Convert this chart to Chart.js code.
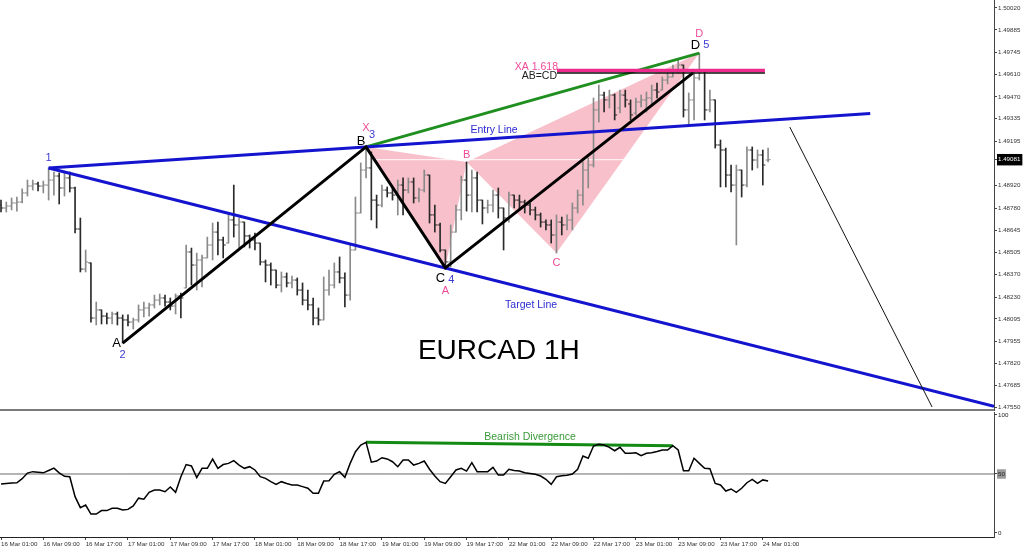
<!DOCTYPE html>
<html><head><meta charset="utf-8">
<script src="https://cdn.jsdelivr.net/npm/chart.js@4.4.1/dist/chart.umd.min.js"></script>
<style>
html,body{margin:0;padding:0;background:#fff;width:1024px;height:550px;overflow:hidden;}
#main{position:absolute;left:0;top:0;}
#rsiC{position:absolute;left:0;top:412px;}
</style></head><body>
<canvas id="main" width="1024" height="412"></canvas>
<canvas id="rsiC" width="1024" height="138"></canvas>
<script>
// ---------- data ----------
const xTickLabels = ['16 Mar 01:00','16 Mar 09:00','16 Mar 17:00','17 Mar 01:00','17 Mar 09:00','17 Mar 17:00','18 Mar 01:00','18 Mar 09:00','18 Mar 17:00','19 Mar 01:00','19 Mar 09:00','19 Mar 17:00','22 Mar 01:00','22 Mar 09:00','22 Mar 17:00','23 Mar 01:00','23 Mar 09:00','23 Mar 17:00','24 Mar 01:00'];
const xTickIndex = [0,8,16,24,32,40,48,56,64,72,80,88,96,104,112,120,128,136,144];
const priceTicks = [1.50020,1.49885,1.49745,1.49610,1.49470,1.49335,1.49195,1.48920,1.48780,1.48645,1.48505,1.48370,1.48230,1.48095,1.47955,1.47820,1.47685,1.47550];
const rsiTicks = [100,50,0];

const openP = [
1.48800,1.48782,1.48794,1.48813,1.48819,1.48875,1.48918,1.48931,1.48918,1.48924,
1.48955,1.48980,1.48906,1.48968,1.48906,1.48652,1.48404,1.48442,1.48101,1.48151,
1.48113,1.48101,1.48126,1.48101,1.48089,1.48076,1.48089,1.48151,1.48163,1.48182,
1.48212,1.48225,1.48200,1.48175,1.48237,1.48287,1.48510,1.48429,1.48460,1.48473,
1.48553,1.48633,1.48584,1.48565,1.48708,1.48677,1.48695,1.48609,1.48584,1.48565,
1.48448,1.48429,1.48398,1.48305,1.48355,1.48318,1.48336,1.48274,1.48212,1.48182,
1.48101,1.48089,1.48274,1.48305,1.48386,1.48349,1.48243,1.48522,1.48751,1.49017,
1.49030,1.48831,1.48800,1.48893,1.48875,1.48862,1.48924,1.48893,1.48943,1.48844,
1.48893,1.48986,1.48739,1.48677,1.48522,1.48448,1.48633,1.48770,1.48955,1.48862,
1.48968,1.48831,1.48782,1.48800,1.48862,1.48782,1.48720,1.48862,1.48831,1.48819,
1.48800,1.48770,1.48739,1.48695,1.48677,1.48615,1.48695,1.48677,1.48708,1.48782,
1.48862,1.49017,1.49048,1.49389,1.49481,1.49451,1.49481,1.49401,1.49481,1.49426,
1.49370,1.49438,1.49451,1.49463,1.49512,1.49512,1.49574,1.49593,1.49636,1.49667,
1.49389,1.49451,1.49587,1.49636,1.49389,1.49451,1.49172,1.49141,1.48986,1.48924,
1.49017,1.48924,1.49141,1.49079,1.49110,1.49079];
const highP = [
1.48831,1.48819,1.48844,1.48850,1.48900,1.48955,1.48955,1.48943,1.48949,1.49030,
1.49005,1.48999,1.49005,1.49005,1.48912,1.48720,1.48522,1.48442,1.48200,1.48151,
1.48132,1.48138,1.48138,1.48120,1.48120,1.48101,1.48182,1.48200,1.48194,1.48243,
1.48250,1.48243,1.48225,1.48250,1.48256,1.48553,1.48534,1.48503,1.48491,1.48602,
1.48689,1.48695,1.48602,1.48751,1.48924,1.48720,1.48695,1.48615,1.48627,1.48565,
1.48460,1.48442,1.48398,1.48386,1.48380,1.48361,1.48349,1.48318,1.48274,1.48225,
1.48163,1.48355,1.48398,1.48442,1.48479,1.48380,1.48553,1.48850,1.49061,1.49160,
1.49129,1.48862,1.48924,1.48912,1.48906,1.48955,1.48968,1.48968,1.48968,1.48906,
1.49017,1.48986,1.48800,1.48689,1.48522,1.48677,1.48800,1.48980,1.49067,1.49017,
1.49005,1.48831,1.48831,1.48893,1.48906,1.48782,1.48881,1.48862,1.48862,1.48831,
1.48813,1.48788,1.48751,1.48708,1.48708,1.48739,1.48726,1.48739,1.48813,1.48893,
1.49067,1.49092,1.49463,1.49543,1.49500,1.49512,1.49488,1.49512,1.49512,1.49451,
1.49463,1.49481,1.49500,1.49543,1.49556,1.49593,1.49618,1.49667,1.49698,1.49667,
1.49494,1.49624,1.49741,1.49636,1.49512,1.49451,1.49203,1.49153,1.49048,1.49048,
1.49017,1.49160,1.49160,1.49141,1.49141,1.49153];
const lowP = [
1.48757,1.48757,1.48770,1.48763,1.48813,1.48856,1.48893,1.48887,1.48875,1.48831,
1.48862,1.48807,1.48856,1.48881,1.48627,1.48386,1.48386,1.48076,1.48058,1.48064,
1.48064,1.48064,1.48058,1.47946,1.48052,1.48033,1.48076,1.48107,1.48113,1.48163,
1.48182,1.48175,1.48151,1.48126,1.48101,1.48287,1.48305,1.48274,1.48293,1.48473,
1.48460,1.48491,1.48473,1.48565,1.48602,1.48534,1.48541,1.48534,1.48522,1.48429,
1.48324,1.48305,1.48287,1.48262,1.48293,1.48287,1.48243,1.48182,1.48151,1.48058,
1.48058,1.48089,1.48243,1.48287,1.48318,1.48169,1.48212,1.48522,1.48751,1.48968,
1.48708,1.48658,1.48788,1.48850,1.48831,1.48739,1.48739,1.48875,1.48813,1.48819,
1.48881,1.48689,1.48633,1.48510,1.48411,1.48417,1.48633,1.48708,1.48763,1.48757,
1.48757,1.48683,1.48751,1.48757,1.48720,1.48522,1.48695,1.48782,1.48770,1.48751,
1.48739,1.48708,1.48664,1.48646,1.48565,1.48503,1.48615,1.48646,1.48646,1.48751,
1.48800,1.48906,1.49036,1.49314,1.49376,1.49401,1.49327,1.49370,1.49407,1.49327,
1.49358,1.49407,1.49376,1.49420,1.49463,1.49512,1.49550,1.49593,1.49618,1.49345,
1.49296,1.49327,1.49574,1.49327,1.49376,1.49153,1.48912,1.48912,1.48881,1.48553,
1.48850,1.48912,1.49017,1.49030,1.48924,1.49067];
const closeP = [
1.48782,1.48794,1.48813,1.48819,1.48875,1.48918,1.48931,1.48918,1.48924,1.48955,
1.48980,1.48906,1.48968,1.48906,1.48652,1.48404,1.48448,1.48101,1.48151,1.48113,
1.48101,1.48126,1.48101,1.48089,1.48076,1.48089,1.48151,1.48163,1.48182,1.48212,
1.48225,1.48200,1.48175,1.48237,1.48225,1.48510,1.48429,1.48460,1.48473,1.48553,
1.48633,1.48584,1.48553,1.48708,1.48677,1.48695,1.48609,1.48584,1.48565,1.48448,
1.48429,1.48398,1.48305,1.48355,1.48318,1.48336,1.48274,1.48212,1.48182,1.48101,
1.48089,1.48274,1.48305,1.48386,1.48349,1.48243,1.48522,1.48751,1.49017,1.49030,
1.48831,1.48800,1.48893,1.48875,1.48862,1.48924,1.48893,1.48943,1.48844,1.48893,
1.48986,1.48739,1.48677,1.48522,1.48448,1.48633,1.48770,1.48955,1.48862,1.48968,
1.48831,1.48782,1.48800,1.48862,1.48782,1.48720,1.48862,1.48831,1.48819,1.48800,
1.48770,1.48739,1.48695,1.48677,1.48615,1.48695,1.48677,1.48708,1.48782,1.48862,
1.49017,1.49048,1.49389,1.49481,1.49451,1.49481,1.49358,1.49481,1.49451,1.49358,
1.49438,1.49451,1.49463,1.49512,1.49500,1.49574,1.49593,1.49636,1.49667,1.49389,
1.49451,1.49587,1.49636,1.49389,1.49451,1.49172,1.49141,1.48986,1.48924,1.49017,
1.48924,1.49141,1.49079,1.49110,1.49048,1.49081];
const rsiValues = [
41.5,42,42.3,42.6,46,50.8,52,51.5,51,53,
55,51,48,47.7,30.8,21.5,23.7,16,16,19,
19,21,21,19.5,20,23,29.5,28.6,34.5,36.4,
36.4,35,39,34.5,47.7,58,56.8,47,54.8,54.8,
62.7,54.8,58,59,61.3,57.6,54.8,56.2,53.4,47.7,
46.3,43.5,41.2,43.5,42,40.7,40.7,39.3,37.9,33.6,
33.6,44,44.3,49.7,52,47.2,59,68.9,74.6,76.9,
60,61,63.8,62.8,60.4,56.2,61.9,61.9,57.6,59,
61,54,48.3,43.5,42,47.7,53.4,54.8,52.5,59.6,
52,52,52,55.6,49.1,49.1,54,53,52.5,51,
50.5,49.7,48.3,45.5,41.2,47.7,48.6,48.9,50,54,
65.3,63.3,73.7,75.1,74.6,72.6,69.7,72.6,67.5,67.5,
68,65.5,67.5,68,69,70.3,70.3,74,70.3,52.8,
52.8,63.3,59,54.8,54.5,42,40.7,35.6,37.3,34.5,
37.9,42.6,45.5,42,45,44];

// pattern pivots (bar indexes) and levels
const pivotIndex = {one:9, A:23, B:69, C:84, hB:88, hC:105, D:132};
const levelXA = 1.49633;     // XA 1.618
const levelABCD = 1.49618;   // AB=CD
const levelSpan = [105.1, 144.4];
const cdEndIndex = 130.8;
const entryEndIndex = 164.3;
const projection = [{x:149.1, y:1.49283}, {x:176.0, y:1.47550}];
const divergenceIdx = [69, 127];

// axis ranges
const X_MIN = -0.19, X_MAX = 187.7;
const P_MIN = 1.475316, P_MAX = 1.500695;
const R_MIN = -3.39, R_MAX = 102.54;

// ---------- helpers ----------
const lastClose = closeP[closeP.length-1];
const pt = (i, arr) => ({x:i, y:arr[i]});
const lineAt = (p, q, x) => p.y + (q.y - p.y) * (x - p.x) / (q.x - p.x);
const P1 = pt(pivotIndex.one, highP), pA = pt(pivotIndex.A, lowP), pB = pt(pivotIndex.B, highP),
      pC = pt(pivotIndex.C, lowP), hB = pt(pivotIndex.hB, highP), hC = pt(pivotIndex.hC, lowP),
      pD = pt(pivotIndex.D, highP);
const entryLine = [P1, {x:entryEndIndex, y:lineAt(P1, pB, entryEndIndex)}];
const targetLine = [P1, {x:X_MAX, y:lineAt(P1, pC, X_MAX)}];

const BLUE = '#1414cf', NUMBLUE = '#3c3cd2', PINK = '#f8c0ca', MAG = '#ee2a8e', PINKTXT = '#ee4a9a', GREEN = '#1f8f1f';
const FONT = 'Liberation Sans, Arial, sans-serif';
const UPC = '#8a8a8a', DNC = '#2a2a2a';

const mainTexts = [
  {t:'1', at:P1, dx:0, dy:-10, c:NUMBLUE, f:'11px'},
  {t:'A', at:pA, dx:-6, dy:0, c:'#000', f:'13px'},
  {t:'2', at:pA, dx:0, dy:12, c:NUMBLUE, f:'11px'},
  {t:'B', at:pB, dx:-5, dy:-6, c:'#000', f:'13px'},
  {t:'X', at:pB, dx:0, dy:-19, c:PINKTXT, f:'11px'},
  {t:'3', at:pB, dx:6, dy:-12, c:NUMBLUE, f:'11px'},
  {t:'B', at:hB, dx:0, dy:-7, c:PINKTXT, f:'11px'},
  {t:'C', at:pC, dx:-5, dy:10, c:'#000', f:'13px'},
  {t:'4', at:pC, dx:6, dy:12, c:NUMBLUE, f:'11px'},
  {t:'A', at:pC, dx:0, dy:23, c:PINKTXT, f:'11px'},
  {t:'C', at:hC, dx:0, dy:10, c:PINKTXT, f:'11px'},
  {t:'D', at:pD, dx:0, dy:-19, c:PINKTXT, f:'11px'},
  {t:'D', at:pD, dx:-4, dy:-8, c:'#000', f:'13px'},
  {t:'5', at:pD, dx:7, dy:-8, c:NUMBLUE, f:'11px'},
  {t:'Entry Line', at:{x:93.2, y:lineAt(P1, pB, 93.2)}, dx:0, dy:-8, c:'#2a2ad0', f:'10.5px'},
  {t:'Target Line', at:{x:100.2, y:lineAt(P1, pC, 100.2)}, dx:0, dy:16, c:'#2a2ad0', f:'10.5px'},
  {t:'XA 1.618', at:{x:levelSpan[0], y:levelXA}, dx:1, dy:-3, c:PINKTXT, f:'10.5px', a:'right'},
  {t:'AB=CD', at:{x:levelSpan[0], y:levelABCD}, dx:0, dy:3.5, c:'#222', f:'10.5px', a:'right'},
  {t:'EURCAD 1H', at:{x:94.1, y:1.47897}, dx:0, dy:0, c:'#000', f:'28px'}
];

function textPlugin(list){
  return {
    id:'texts',
    afterDatasetsDraw(chart){
      const {ctx, scales} = chart;
      const xs = scales.x, ys = scales.y;
      ctx.save();
      ctx.textBaseline = 'middle';
      for (const t of list){
        ctx.font = t.f + ' ' + FONT;
        ctx.fillStyle = t.c;
        ctx.textAlign = t.a || 'center';
        ctx.fillText(t.t, xs.getPixelForValue(t.at.x) + t.dx, ys.getPixelForValue(t.at.y) + t.dy);
      }
      ctx.restore();
    }
  };
}

const lineDs = (data, color, width, order, extra) => Object.assign({
  type:'line', data, borderColor:color, borderWidth:width, pointRadius:0, pointHoverRadius:0, tension:0, fill:false, order
}, extra || {});

// ---------- main chart ----------
const idx = openP.map((_, i) => i);
const barColors = idx.map(i => closeP[i] < openP[i] ? DNC : UPC);
new Chart(document.getElementById('main'), {
  type:'line',
  data:{ datasets:[
    lineDs([pB, pC, hB], 'rgba(0,0,0,0)', 0, 30, {fill:'shape', backgroundColor:PINK}),
    lineDs([hB, hC, pD], 'rgba(0,0,0,0)', 0, 30, {fill:'shape', backgroundColor:PINK}),
    lineDs([{x:X_MIN, y:lastClose}, {x:X_MAX, y:lastClose}], 'rgba(255,255,255,0.9)', 1, 25),
    { type:'bar', data: idx.map(i => ({x:i, y:[lowP[i], highP[i]]})), backgroundColor:barColors,
      barThickness:1, borderWidth:0, order:20, grouped:false },
    lineDs(idx.map(i => ({x:i-0.24, y:openP[i]})), UPC, 1, 20,
      {showLine:false, pointRadius:1.25, pointStyle:'line', pointBorderColor:barColors, pointBorderWidth:1}),
    lineDs(idx.map(i => ({x:i+0.24, y:closeP[i]})), UPC, 1, 20,
      {showLine:false, pointRadius:1.25, pointStyle:'line', pointBorderColor:barColors, pointBorderWidth:1}),
    lineDs(entryLine, BLUE, 3, 5),
    lineDs(targetLine, BLUE, 3, 5),
    lineDs([pB, pD], GREEN, 3, 5),
    lineDs([pA, pB, pC, {x:cdEndIndex, y:levelABCD}], '#000', 3, 4),
    lineDs([{x:levelSpan[0], y:levelXA}, {x:levelSpan[1], y:levelXA}], MAG, 3.5, 3),
    lineDs([{x:levelSpan[0], y:levelABCD}, {x:levelSpan[1], y:levelABCD}], '#111', 1.5, 2),
    lineDs(projection, '#111', 1, 2)
  ]},
  options:{
    responsive:false, animation:false, devicePixelRatio:1, events:[],
    layout:{padding:0, autoPadding:false},
    plugins:{legend:{display:false}, tooltip:{enabled:false}},
    scales:{
      x:{ type:'linear', min:X_MIN, max:X_MAX, offset:false, bounds:'data',
          ticks:{display:false}, grid:{display:false, drawTicks:false},
          border:{display:true, color:'#7a7a7a', width:2},
          afterFit(s){ s.height = 2; s.paddingLeft = 0; s.paddingRight = 0; } },
      y:{ type:'linear', position:'right', min:P_MIN, max:P_MAX, bounds:'data',
          afterBuildTicks(s){ s.ticks = priceTicks.concat([lastClose]).map(v => ({value:v})); },
          afterFit(s){ s.width = 30; s.paddingTop = 0; s.paddingBottom = 0; },
          grid:{drawOnChartArea:false, drawTicks:true, tickLength:3, color:'#444'},
          border:{display:true, color:'#444', width:1},
          ticks:{ autoSkip:false, padding:1, font:{family:FONT, size:6.2},
            callback:v => v.toFixed(5),
            color:c => (c.tick && c.tick.value === lastClose) ? '#fff' : '#333',
            showLabelBackdrop:true,
            backdropColor:c => (c.tick && c.tick.value === lastClose) ? '#000' : 'rgba(0,0,0,0)',
            backdropPadding:{left:1, right:2, top:2, bottom:2} } }
    }
  },
  plugins:[textPlugin(mainTexts)]
});

// ---------- RSI chart ----------
const rsiPts = rsiValues.map((v, i) => ({x:i, y:v}));
const divLine = divergenceIdx.map(i => ({x:i, y:rsiValues[i]}));
const rsiTexts = [
  {t:'Bearish Divergence', at:{x:100, y:lineAt(divLine[0], divLine[1], 100)}, dx:0, dy:-7, c:'#3a9a3a', f:'10.5px'}
];
new Chart(document.getElementById('rsiC'), {
  type:'line',
  data:{ datasets:[
    lineDs([{x:X_MIN, y:50}, {x:X_MAX, y:50}], '#6a6a6a', 1, 10),
    lineDs(divLine, '#138a13', 3, 5),
    lineDs(rsiPts, '#000', 1.5, 1)
  ]},
  options:{
    responsive:false, animation:false, devicePixelRatio:1, events:[],
    layout:{padding:0, autoPadding:false},
    plugins:{legend:{display:false}, tooltip:{enabled:false}},
    scales:{
      x:{ type:'linear', min:X_MIN, max:X_MAX, offset:false, bounds:'data',
          afterBuildTicks(s){ s.ticks = xTickIndex.map(v => ({value:v})); },
          afterFit(s){ s.height = 13; s.paddingLeft = 0; s.paddingRight = 0; },
          grid:{drawOnChartArea:false, drawTicks:true, tickLength:3, color:'#444'},
          border:{display:true, color:'#222', width:1},
          ticks:{ autoSkip:false, maxRotation:0, minRotation:0, align:'start', padding:1,
                  font:{family:FONT, size:6.2}, color:'#333',
                  callback:(v, i) => xTickLabels[i] } },
      y:{ type:'linear', position:'right', min:R_MIN, max:R_MAX, bounds:'data',
          afterBuildTicks(s){ s.ticks = rsiTicks.map(v => ({value:v})); },
          afterFit(s){ s.width = 30; s.paddingTop = 0; s.paddingBottom = 0; },
          grid:{drawOnChartArea:false, drawTicks:true, tickLength:3, color:'#444'},
          border:{display:true, color:'#444', width:1},
          ticks:{ autoSkip:false, padding:1, font:{family:FONT, size:6.2},
            color:'#222', showLabelBackdrop:true,
            backdropColor:c => (c.tick && c.tick.value === 50) ? '#9a9a9a' : 'rgba(0,0,0,0)',
            backdropPadding:{left:1, right:1, top:1, bottom:1} } }
    }
  },
  plugins:[textPlugin(rsiTexts)]
});
</script>
</body></html>
